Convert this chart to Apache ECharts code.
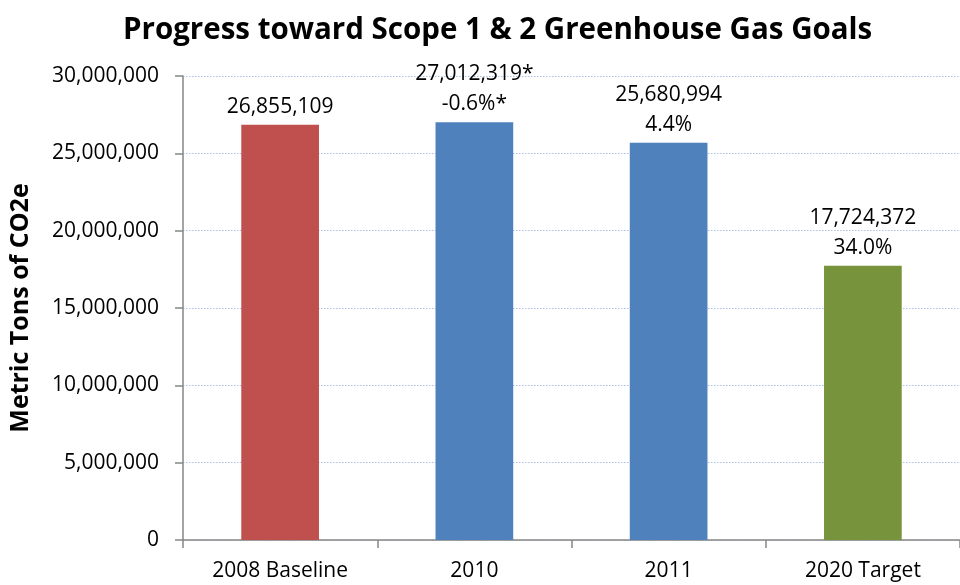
<!DOCTYPE html>
<html>
<head>
<meta charset="utf-8">
<script src="https://cdn.jsdelivr.net/npm/echarts@6/dist/echarts.min.js"></script>
<style>
  html, body { margin: 0; padding: 0; background: #ffffff; }
  #chart { width: 960px; height: 585px; }
</style>
</head>
<body>
<div id="chart"></div>
<script>
// Scope 1 & 2 greenhouse gas emissions (metric tons CO2e)
const categories = ['2008 Baseline', '2010', '2011', '2020 Target'];
const emissions = [26855109, 27012319, 25680994, 17724372];
const valueNotes = ['', '*', '', ''];
const changeLabels = ['', '-0.6%*', '4.4%', '34.0%'];
const barColors = ['#C0504D', '#4F81BD', '#4F81BD', '#77933C'];
const yTicks = { min: 0, max: 30000000, interval: 5000000 };

const FONT = '"Open Sans", "Noto Sans", sans-serif';
const fmt = v => Number(v).toLocaleString('en-US');

const chart = echarts.init(document.getElementById('chart'));
chart.setOption({
  animation: false,
  backgroundColor: '#ffffff',
  title: {
    text: 'Progress toward Scope 1 & 2 Greenhouse Gas Goals',
    left: 118,
    top: 11,
    textStyle: { fontFamily: FONT, fontSize: 29.5, fontWeight: 'bold', color: '#000000' }
  },
  grid: { left: 179, right: -10, top: 76, bottom: 45, containLabel: false },
  xAxis: {
    type: 'category',
    data: categories,
    axisLine: { show: true, lineStyle: { color: '#868686', width: 1.5 } },
    axisTick: { show: true, length: 8, lineStyle: { color: '#868686', width: 1.5 } },
    axisLabel: { fontFamily: FONT, fontSize: 21, color: '#000000', margin: 21 }
  },
  yAxis: {
    type: 'value',
    min: yTicks.min,
    max: yTicks.max,
    interval: yTicks.interval,
    name: 'Metric Tons of CO2e',
    nameLocation: 'middle',
    nameRotate: 90,
    nameGap: 150,
    nameTextStyle: { fontFamily: FONT, fontSize: 25, fontWeight: 'bold', color: '#000000' },
    axisLine: { show: true, lineStyle: { color: '#868686', width: 1.5 } },
    axisTick: { show: true, length: 8, lineStyle: { color: '#868686', width: 1.5 } },
    axisLabel: { fontFamily: FONT, fontSize: 21, color: '#000000', margin: 24, formatter: v => fmt(v) },
    splitLine: { show: true, lineStyle: { color: '#A9C1E4', type: [1.5, 1.5], width: 1.2 } }
  },
  series: [{
    type: 'bar',
    barWidth: '40%',
    data: emissions.map((v, i) => ({ value: v, itemStyle: { color: barColors[i] } })),
    label: {
      show: true,
      position: 'top',
      distance: 3,
      fontFamily: FONT,
      fontSize: 21,
      color: '#000000',
      lineHeight: 30,
      align: 'center',
      formatter: p => {
        const i = p.dataIndex;
        const first = fmt(emissions[i]) + valueNotes[i];
        return changeLabels[i] ? first + '\n' + changeLabels[i] : first;
      }
    }
  }]
});
</script>
</body>
</html>
